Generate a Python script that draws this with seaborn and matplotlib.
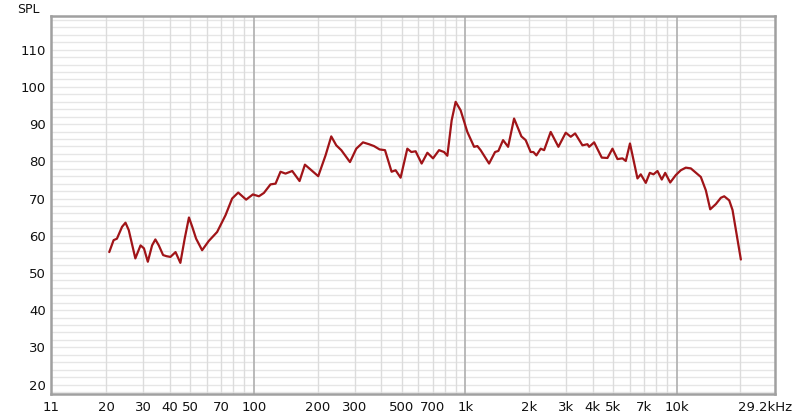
import numpy as np
import pandas as pd
import matplotlib
matplotlib.use("Agg")
import matplotlib.pyplot as plt
import matplotlib.transforms as mtransforms
import seaborn as sns

# Frequency response (Hz, dB SPL)
freq_hz = [20.7, 21.7, 22.5, 23.8, 24.7, 25.6, 27.5, 29.1, 30.2, 31.5,
           33.0, 34.2, 35.5, 37.2, 38.6, 40.3, 42.6, 44.9, 47.1, 49.3,
           51.1, 53.3, 56.9, 61.2, 67.0, 73.4, 78.9, 84.3, 91.9, 98.9,
           105.6, 111.5, 119.8, 126.6, 133.6, 141.1, 151.8, 164.4, 174.3, 185.3,
           201.5, 218.2, 232.2, 245.2, 259, 284.7, 304.9, 328.1, 350.2, 369.8,
           392.9, 416.9, 447.9, 467.9, 494.1, 531.6, 555.3, 582, 621.3, 661.2,
           703.3, 750.9, 793.0, 822.0, 861.4, 899.7, 950.1, 1022, 1100, 1140,
           1181, 1295, 1382, 1433, 1508, 1593, 1700, 1841, 1929, 2037,
           2098, 2168, 2272, 2358, 2533, 2755, 2984, 3151, 3305, 3579,
           3779, 3850, 4066, 4417, 4699, 4963, 5242, 5534, 5738, 6006,
           6516, 6754, 7135, 7452, 7758, 8101, 8491, 8813, 9307, 9893,
           10446, 11030, 11650, 12990, 13720, 14390, 15300, 16160, 16760, 17700,
           18350, 20090]
spl_db = [55.6, 58.8, 59.2, 62.4, 63.5, 61.5, 53.9, 57.4, 56.6, 53.0,
          57.4, 59.0, 57.4, 54.8, 54.5, 54.3, 55.6, 52.7, 59.3, 64.9,
          62.4, 59.2, 56.1, 58.6, 61.0, 65.5, 70.0, 71.6, 69.7, 71.1,
          70.6, 71.5, 73.8, 74.0, 77.2, 76.7, 77.4, 74.7, 79.1, 77.8,
          76.0, 81.6, 86.7, 84.3, 83.0, 79.8, 83.4, 85.1, 84.6, 84.1,
          83.2, 83.0, 77.2, 77.6, 75.6, 83.4, 82.5, 82.7, 79.4, 82.3,
          80.8, 83.0, 82.5, 81.5, 91.0, 96.0, 93.7, 87.9, 83.9, 84.1,
          83.0, 79.4, 82.5, 82.8, 85.7, 83.9, 91.5, 86.7, 85.7, 82.5,
          82.5, 81.6, 83.4, 83.0, 87.9, 83.9, 87.7, 86.6, 87.5, 84.3,
          84.6, 83.9, 85.1, 81.0, 80.9, 83.4, 80.6, 80.8, 80.1, 84.8,
          75.4, 76.5, 74.2, 76.9, 76.5, 77.4, 75.1, 76.9, 74.3, 76.3,
          77.6, 78.3, 78.1, 75.8, 72.2, 67.1, 68.5, 70.2, 70.6, 69.5,
          66.9, 53.6]

x_ticks = [11, 20, 30, 40, 50, 70, 100, 200, 300, 500, 700,
           1000, 2000, 3000, 4000, 5000, 7000, 10000, 29200]
x_tick_labels = ["11", "20", "30", "40", "50", "70", "100", "200", "300", "500", "700",
                 "1k", "2k", "3k", "4k", "5k", "7k", "10k", "29.2kHz"]
y_ticks = [20, 30, 40, 50, 60, 70, 80, 90, 100, 110]

df = pd.DataFrame({"freq": freq_hz, "spl": spl_db})

sns.set_style("white")
plt.rcParams["font.family"] = ["DejaVu Sans"]

fig = plt.figure(figsize=(8, 4.18), dpi=100)
ax = fig.add_axes([0.064, 0.057, 0.905, 0.905])

# grid: every 2 dB, and 10-20-...-90 per decade
for db in range(18, 120, 2):
    ax.axhline(db, color="#e6e6e6", lw=1.0, zorder=0)
for dec in [10, 100, 1000, 10000]:
    for m in range(1, 10):
        f = dec * m
        if 11 < f < 29200:
            strong = m == 1 and dec in (100, 1000, 10000)
            ax.axvline(f, color="#b4b4b4" if strong else "#dcdcdc",
                       lw=1.3 if strong else 1.0, zorder=0)

sns.lineplot(data=df, x="freq", y="spl", color="#a01418", lw=1.6, ax=ax, zorder=3)

ax.set_xscale("log")
ax.set_xlim(11, 29200)
ax.set_ylim(17.4, 119.1)
ax.set_xticks(x_ticks)
ax.set_xticklabels(x_tick_labels)
ax.xaxis.set_minor_locator(matplotlib.ticker.NullLocator())
ax.set_yticks(y_ticks)
ax.tick_params(axis="both", length=0, labelsize=9.5, colors="#111111")
ax.tick_params(axis="x", pad=5)
ax.tick_params(axis="y", pad=4)
ax.set_xlabel("")
ax.set_ylabel("")

# last label sits a bit left of the axis end, like the reference
last = ax.get_xticklabels()[-1]
last.set_transform(last.get_transform() +
                   mtransforms.ScaledTranslation(-10 / 100, 0, fig.dpi_scale_trans))

for sp in ax.spines.values():
    sp.set_color("#a0a0a0")
    sp.set_linewidth(1.8)

fig.text(0.035, 0.978, "SPL", fontsize=9, ha="center", va="center", color="#111111")

fig.savefig("out.png", dpi=100)
